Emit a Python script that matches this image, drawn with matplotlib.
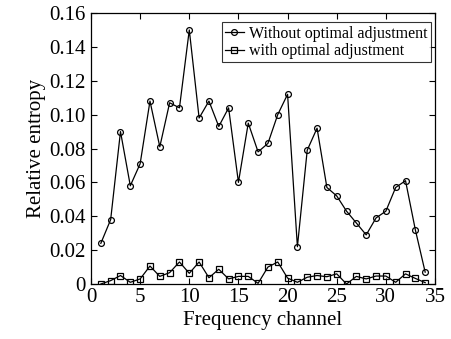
import matplotlib
matplotlib.use("Agg")
from matplotlib import pyplot as plt

channels = list(range(1, 35))
without_adj = [0.024, 0.038, 0.090, 0.058, 0.071, 0.108, 0.081, 0.107, 0.104, 0.150,
               0.098, 0.108, 0.093, 0.104, 0.060, 0.095, 0.078, 0.083, 0.100, 0.112,
               0.022, 0.079, 0.092, 0.057, 0.052, 0.043, 0.036, 0.029, 0.039, 0.043,
               0.057, 0.061, 0.032, 0.007]
with_adj = [0.000, 0.002, 0.005, 0.001, 0.003, 0.0106, 0.0045, 0.0067, 0.013, 0.0063,
            0.013, 0.0037, 0.0087, 0.003, 0.0045, 0.0045, 0.0004, 0.010, 0.013, 0.0035,
            0.001, 0.004, 0.005, 0.0043, 0.006, 0.000, 0.0045, 0.003, 0.0047, 0.0047,
            0.001, 0.006, 0.0033, 0.0008]
xticks = [0, 5, 10, 15, 20, 25, 30, 35]
yticks = [0, 0.02, 0.04, 0.06, 0.08, 0.10, 0.12, 0.14, 0.16]
yticklabels = ["0", "0.02", "0.04", "0.06", "0.08", "0.10", "0.12", "0.14", "0.16"]

plt.rcParams["font.family"] = ["Liberation Serif", "DejaVu Serif"]

fig = plt.figure(figsize=(4.52, 3.39), dpi=100)
ax = fig.add_axes([91 / 452, 1 - 284 / 339, (435 - 91) / 452, (284 - 13) / 339])

ax.plot(channels, without_adj, "k-", marker="o", markersize=4.2, markerfacecolor="none",
        markeredgewidth=0.9, linewidth=0.9, label="Without optimal adjustment")
ax.plot(channels, with_adj, "k-", marker="s", markersize=4.2, markerfacecolor="none",
        markeredgewidth=0.9, linewidth=0.9, label="with optimal adjustment")

ax.set_xlim(0, 35)
ax.set_ylim(0, 0.16)
ax.set_xticks(xticks)
ax.set_yticks(yticks)
ax.set_yticklabels(yticklabels)
ax.tick_params(direction="in", top=True, right=True, labelsize=15, length=4)
ax.tick_params(axis="x", pad=3)
ax.tick_params(axis="y", pad=4)
for s in ax.spines.values():
    s.set_linewidth(0.9)

ax.set_xlabel("Frequency channel", fontsize=15, labelpad=3)
ax.set_ylabel("Relative entropy", fontsize=15, labelpad=2)

leg = ax.legend(loc="upper right", fontsize=11.5, frameon=True, fancybox=False,
                edgecolor="black", borderpad=0.2, handlelength=1.2, handletextpad=0.3,
                labelspacing=0.1, bbox_to_anchor=(0.987, 0.965), borderaxespad=0)
leg.get_frame().set_linewidth(0.8)

fig.savefig("out.png", dpi=100)
